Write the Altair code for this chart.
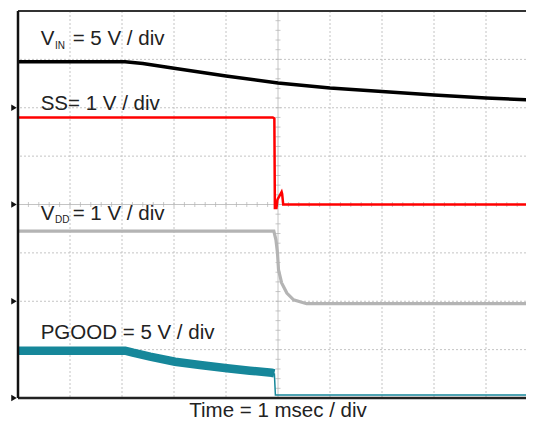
import altair as alt
import pandas as pd
import numpy as np

# ---- scope channel settings ----
channels = ["VIN", "SS", "VDD", "PGOOD"]
volts_per_div = [5, 1, 1, 5]
ground_div = [6, 4, 2, 0]
colors = ["#000000", "#ff0000", "#b4b4b4", "#16879a"]

W, H = 508, 387
x_visible_ms = W / 52.0   # 1 ms/div (52 px per div), screen cut at right
y_divs = 8
grid_t = [1, 2, 3, 4, 6, 7, 8, 9]
grid_div = [1, 2, 3, 5, 6, 7]

# ---- traces (time in ms, value in V) ----
vin_t = [0, 2.06, 2.4, 3.0, 4.0, 5.0, 6.0, 7.0, 8.0, 9.0, 9.92]
vin_v = [4.76, 4.76, 4.57, 4.08, 3.28, 2.56, 2.04, 1.68, 1.32, 1.01, 0.80]

ss_t = [0, 4.90, 4.93, 4.94, 4.97, 4.99, 5.07, 5.08, 5.10, 9.92]
ss_v = [1.80, 1.80, 1.78, -0.07, -0.07, 0.10, 0.26, 0.22, 0.0, 0.0]

vdd_t = [0, 4.92, 4.96, 4.99, 5.01, 5.07, 5.17, 5.30, 5.55, 9.92]
vdd_v = [1.45, 1.45, 1.27, 1.00, 0.65, 0.38, 0.17, 0.03, -0.05, -0.05]

pg_t = [0, 2.06, 2.21, 2.54, 3.02, 3.50, 4.02, 4.46, 4.88, 4.93]
pg_v = [4.89, 4.89, 4.68, 4.27, 3.75, 3.41, 3.07, 2.82, 2.61, 2.55]
pg_low_t = [4.93, 4.95, 9.92]
pg_low_v = [2.55, 0.30, 0.30]


def trace_df(t, v, ch):
    i = channels.index(ch)
    return pd.DataFrame({"t": t, "div": [ground_div[i] + x / volts_per_div[i] for x in v]})


xs = alt.Scale(domain=[0, x_visible_ms], nice=False, zero=False)
ys = alt.Scale(domain=[0, y_divs], nice=False, zero=False)
X = lambda: alt.X("t:Q", scale=xs, axis=None)
Y = lambda: alt.Y("div:Q", scale=ys, axis=None)

GRID = "#c4c4c4"
grid_v = alt.Chart(pd.DataFrame({"t": grid_t})).mark_rule(
    color=GRID, strokeWidth=1, strokeDash=[2, 2]).encode(x=X())
grid_h = alt.Chart(pd.DataFrame({"div": grid_div})).mark_rule(
    color=GRID, strokeWidth=1, strokeDash=[2, 2]).encode(y=Y())

# centre lines with minor ticks
center_v = alt.Chart(pd.DataFrame({"t": [5.0]})).mark_rule(color=GRID, strokeWidth=1).encode(x=X())
center_h = alt.Chart(pd.DataFrame({"div": [4.0]})).mark_rule(color=GRID, strokeWidth=1).encode(y=Y())
minor_y = pd.DataFrame({"div": np.arange(0, y_divs + 0.001, 0.2), "t": 5.0})
minor_x = pd.DataFrame({"t": np.arange(0, x_visible_ms, 0.2), "div": 4.0})
ticks_v = alt.Chart(minor_y).mark_tick(orient="horizontal", size=5, thickness=1, color="#b0b0b0").encode(
    x=X(), y=Y())
ticks_h = alt.Chart(minor_x).mark_tick(orient="vertical", size=5, thickness=1, color="#b0b0b0").encode(
    x=X(), y=Y())


def line(df, color, width):
    return alt.Chart(df).mark_line(color=color, strokeWidth=width, clip=True).encode(x=X(), y=Y())


l_vin = line(trace_df(vin_t, vin_v, "VIN"), colors[0], 3.5)
l_ss = line(trace_df(ss_t, ss_v, "SS"), colors[1], 2.5)
l_vdd = line(trace_df(vdd_t, vdd_v, "VDD"), colors[2], 3.2)
l_pg = line(trace_df(pg_t, pg_v, "PGOOD"), colors[3], 8.5)
l_pg_low = line(trace_df(pg_low_t, pg_low_v, "PGOOD"), colors[3], 1.5)

# frame
frame_left = alt.Chart().mark_rule(color="#111111", strokeWidth=2.5).encode(
    x=alt.value(0), y=alt.value(0), y2=alt.value(H))
frame_top = alt.Chart().mark_rule(color="#333333", strokeWidth=2).encode(
    x=alt.value(0), x2=alt.value(W), y=alt.value(0))
frame_bot = alt.Chart().mark_rule(color="#222222", strokeWidth=2.5).encode(
    x=alt.value(0), x2=alt.value(W), y=alt.value(H))

# ground markers
markers = alt.Chart(pd.DataFrame({"div": ground_div})).mark_point(
    shape="triangle-right", filled=True, size=40, color="#111111", opacity=1).encode(
    x=alt.value(-4), y=Y())

FONT = "Liberation Sans"


def label(text, x, y, size=20.5, align="left"):
    return alt.Chart(pd.DataFrame({"s": [text]})).mark_text(
        align=align, baseline="alphabetic", font=FONT, fontSize=size, color="#222222").encode(
        x=alt.value(x), y=alt.value(y), text="s:N")


labels = [
    label("V", 22.7, 34), label("IN", 37, 38, size=10), label("= 5 V / div", 54.7, 34),
    label("SS= 1 V / div", 22.7, 99),
    label("V", 22.7, 208.5), label("DD", 37, 212, size=10), label("= 1 V / div", 54.7, 208.5),
    label("PGOOD = 5 V / div", 22.7, 328),
    label("Time = 1 msec / div", 260, 406, align="center"),
]

chart = alt.layer(
    grid_v, grid_h, center_v, center_h, ticks_v, ticks_h,
    l_vin, l_ss, l_vdd, l_pg, l_pg_low,
    frame_top, frame_bot, frame_left, markers, *labels
).properties(
    width=W, height=H,
    padding={"left": 10, "top": 3, "right": 0, "bottom": 25},
    autosize=alt.AutoSizeParams(type="none"),
    background="white",
).configure_view(stroke=None)

chart.save("out.html", embed_options={"renderer": "svg", "actions": False})
